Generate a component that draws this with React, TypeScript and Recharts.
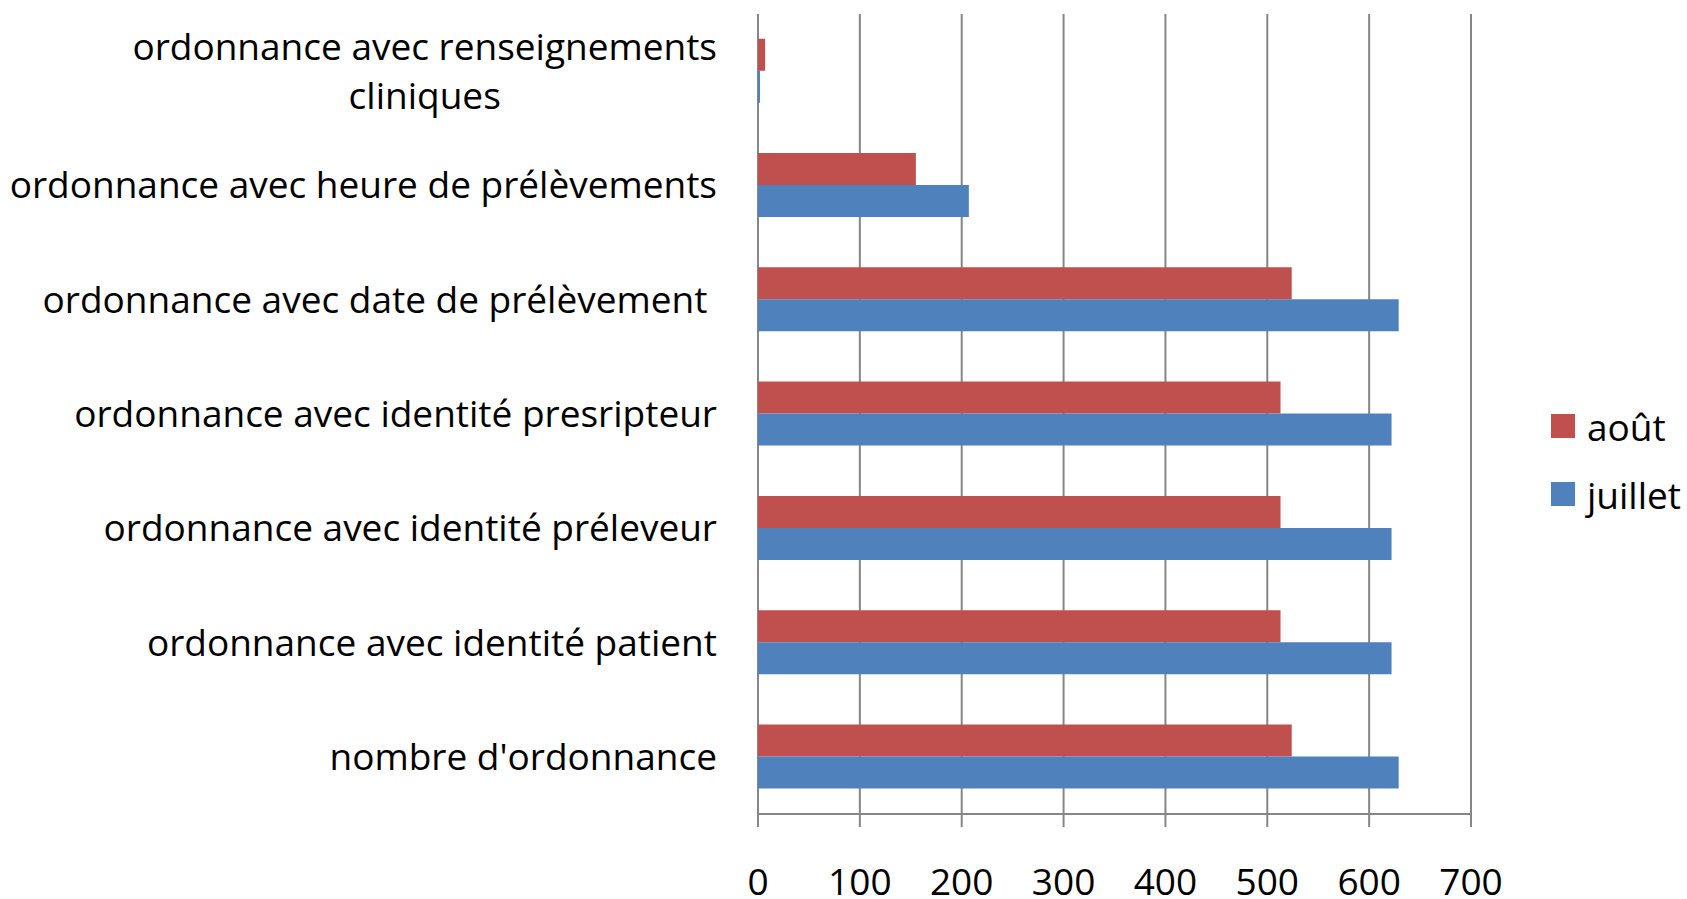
import React from 'react';
import { BarChart, Bar, XAxis, YAxis, CartesianGrid, Legend } from 'recharts';

const categories = [
  'ordonnance avec renseignements\ncliniques',
  'ordonnance avec heure de prélèvements',
  'ordonnance avec date de prélèvement ',
  'ordonnance avec identité presripteur',
  'ordonnance avec identité préleveur',
  'ordonnance avec identité patient',
  "nombre d'ordonnance",
];
const aout = [7, 155, 524, 513, 513, 513, 524];
const juillet = [2, 207, 629, 622, 622, 622, 629];
const xTicks = [0, 100, 200, 300, 400, 500, 600, 700];
const boundaryTicks = [0, 1, 2, 3, 4, 5, 6, 7];

const data = categories.map((name, i) => ({ name, aout: aout[i], juillet: juillet[i] }));

const FONT = '"Open Sans", sans-serif';
const FONT_SIZE = 37;
const GRID = '#868686';

let ctx: CanvasRenderingContext2D | null = null;
function measure(t: string): number {
  if (!ctx) {
    const c = document.createElement('canvas');
    ctx = c.getContext('2d');
  }
  if (!ctx) return t.length * FONT_SIZE * 0.5;
  ctx.font = `${FONT_SIZE}px "Open Sans"`;
  return ctx.measureText(t).width;
}

const CategoryTick = (props: any) => {
  const { x, y, payload } = props;
  const lines = String(payload.value).split('\n');
  const common = {
    fill: '#000',
    fontSize: FONT_SIZE,
    fontFamily: FONT,
    style: { whiteSpace: 'pre' as const },
  };
  if (lines.length === 1) {
    return (
      <text x={x} y={y + 13} textAnchor="end" {...common}>
        {lines[0]}
      </text>
    );
  }
  const maxW = Math.max(...lines.map(measure));
  const cx = x - maxW / 2;
  const lh = 49;
  const start = y + 13 - ((lines.length - 1) * lh) / 2;
  return (
    <text {...common} textAnchor="middle">
      {lines.map((l, i) => (
        <tspan key={i} x={cx} y={start + i * lh} textAnchor="middle">
          {l}
        </tspan>
      ))}
    </text>
  );
};

const LegendContent = (props: any) => {
  const { payload } = props;
  return (
    <div style={{ fontFamily: FONT, fontSize: FONT_SIZE, color: '#000' }}>
      {(payload || []).map((p: any, i: number) => (
        <div key={i} style={{ display: 'flex', alignItems: 'center', height: 68 }}>
          <span
            style={{ width: 24, height: 24, background: p.color, marginRight: 12, display: 'inline-block' }}
          />
          <span style={{ lineHeight: 'normal', whiteSpace: 'nowrap' }}>{p.value}</span>
        </div>
      ))}
    </div>
  );
};

export default function App() {
  return (
    <div style={{ position: 'absolute', left: 0, top: 0, width: 1687, height: 899, background: '#fff' }}>
      <BarChart
        width={1687}
        height={899}
        data={data}
        layout="vertical"
        margin={{ top: 14, right: 216, bottom: 0, left: 0 }}
        barCategoryGap="21.65%"
        barGap={0}
      >
        <CartesianGrid horizontal={false} stroke={GRID} strokeWidth={2} yAxisId="cat" />
        <YAxis
          yAxisId="b"
          type="number"
          domain={[0, 7]}
          ticks={boundaryTicks}
          interval={0}
          width={0}
          tickSize={13}
          tick={false}
          axisLine={{ stroke: GRID, strokeWidth: 2 }}
          tickLine={{ stroke: GRID, strokeWidth: 2 }}
        />
        <YAxis
          yAxisId="cat"
          type="category"
          dataKey="name"
          width={758}
          interval={0}
          tickSize={0}
          tickMargin={41}
          tickLine={false}
          axisLine={false}
          tick={<CategoryTick />}
        />
        <XAxis
          type="number"
          domain={[0, 700]}
          ticks={xTicks}
          interval={0}
          height={85}
          tickSize={13}
          tickMargin={42}
          allowDataOverflow
          axisLine={{ stroke: GRID, strokeWidth: 2 }}
          tickLine={{ stroke: GRID, strokeWidth: 2 }}
          tick={{ fill: '#000', fontSize: FONT_SIZE, fontFamily: FONT }}
        />
        <Legend
          layout="vertical"
          align="center"
          verticalAlign="middle"
          content={<LegendContent />}
          wrapperStyle={{ left: 1551, top: 392, width: 'auto', height: 'auto' }}
        />
        <Bar dataKey="aout" name="août" fill="#C0504D" yAxisId="cat" isAnimationActive={false} />
        <Bar dataKey="juillet" name="juillet" fill="#4F81BD" yAxisId="cat" isAnimationActive={false} />
      </BarChart>
    </div>
  );
}
